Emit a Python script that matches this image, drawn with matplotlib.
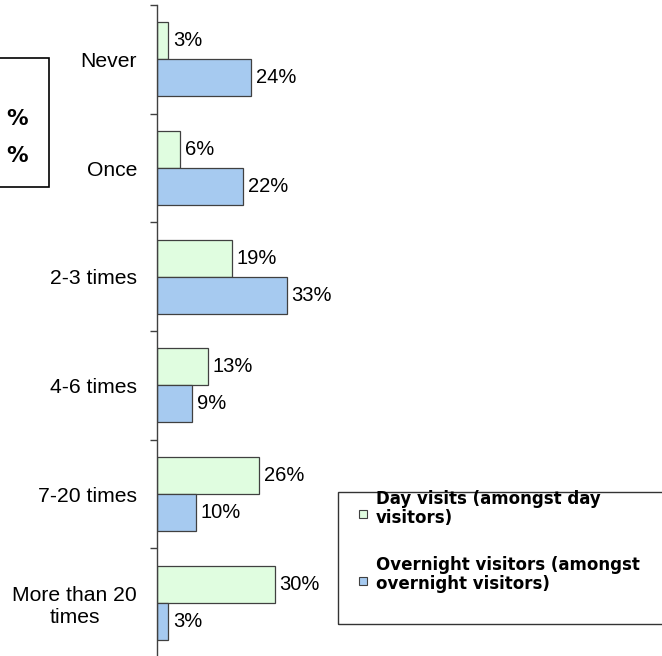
import numpy as np
import matplotlib.pyplot as plt
from matplotlib.patches import Rectangle

# Dados
categorias = ['Never', 'Once', '2-3 times', '4-6 times', '7-20 times', 'More than 20\ntimes']
day_visits = [3, 6, 19, 13, 26, 30]
overnight = [24, 22, 33, 9, 10, 3]
legenda_day = 'Day visits (amongst day\nvisitors)'
legenda_night = 'Overnight visitors (amongst\novernight visitors)'

cor_day = '#E0FDE0'
cor_night = '#A6CAF0'
cor_borda = '#404040'

W, H = 662, 656
fig = plt.figure(figsize=(W / 100, H / 100), dpi=100)

# eixo: y de 5 px (topo) até ~657 px (passa um pouco da borda)
ax = fig.add_axes([156.5 / W, 1 - 657 / H, (W - 156.5) / W, (657 - 5) / H])

y = np.arange(len(categorias))
h = 0.34
b1 = ax.barh(y - h / 2, day_visits, height=h, color=cor_day, edgecolor=cor_borda, linewidth=0.9)
b2 = ax.barh(y + h / 2, overnight, height=h, color=cor_night, edgecolor=cor_borda, linewidth=0.9)

for barras, vals in ((b1, day_visits), (b2, overnight)):
    for bar, v in zip(barras, vals):
        ax.annotate(f'{v}%', (bar.get_width(), bar.get_y() + bar.get_height() / 2),
                    xytext=(3.3, 0), textcoords='offset points', va='center', ha='left',
                    fontsize=14.5, family='Liberation Sans')

ax.set_xlim(0, (W - 156.5) / 3.95)
ax.set_ylim(len(categorias) - 0.5, -0.5)

# ticks nas divisões das categorias, rótulos no centro
ax.set_yticks(np.arange(-0.5, len(categorias)), labels=[])
ax.set_yticks(y, labels=categorias, minor=True)
ax.tick_params(axis='y', which='major', length=5, width=1, color=cor_borda, direction='out')
ax.tick_params(axis='y', which='minor', length=0, pad=14)
for t in ax.get_yticklabels(minor=True):
    t.set_fontsize(15.2)
    t.set_family('Liberation Sans')
    t.set_multialignment('center')
ax.set_xticks([])
for s in ['top', 'right', 'bottom']:
    ax.spines[s].set_visible(False)
ax.spines['left'].set_color(cor_borda)
ax.spines['left'].set_linewidth(1)

# caixa cortada à esquerda
fig.add_artist(Rectangle((-20 / W, 1 - 187 / H), 69 / W, 129 / H, transform=fig.transFigure,
                         fill=False, edgecolor='black', linewidth=1.2))
for yc in (119, 156):
    fig.text(28 / W, 1 - yc / H, '%', ha='right', va='center', fontsize=15.5,
             fontweight='bold', family='DejaVu Sans')

# legenda (caixa cortada à direita)
fig.add_artist(Rectangle((338 / W, 1 - 624 / H), 400 / W, 132 / H, transform=fig.transFigure,
                         fill=False, edgecolor='#333333', linewidth=1))
for yb, ys, cor, txt in ((523, 514, cor_day, legenda_day), (589, 581, cor_night, legenda_night)):
    fig.add_artist(Rectangle((359 / W, 1 - (ys + 3.5) / H), 8 / W, 8 / H, transform=fig.transFigure,
                             facecolor=cor, edgecolor=cor_borda, linewidth=0.8))
    fig.text(376 / W, 1 - yb / H, txt, ha='left', va='baseline', fontsize=12,
             fontweight='bold', family='DejaVu Sans', linespacing=1.05)

plt.savefig('out.png', dpi=100)
